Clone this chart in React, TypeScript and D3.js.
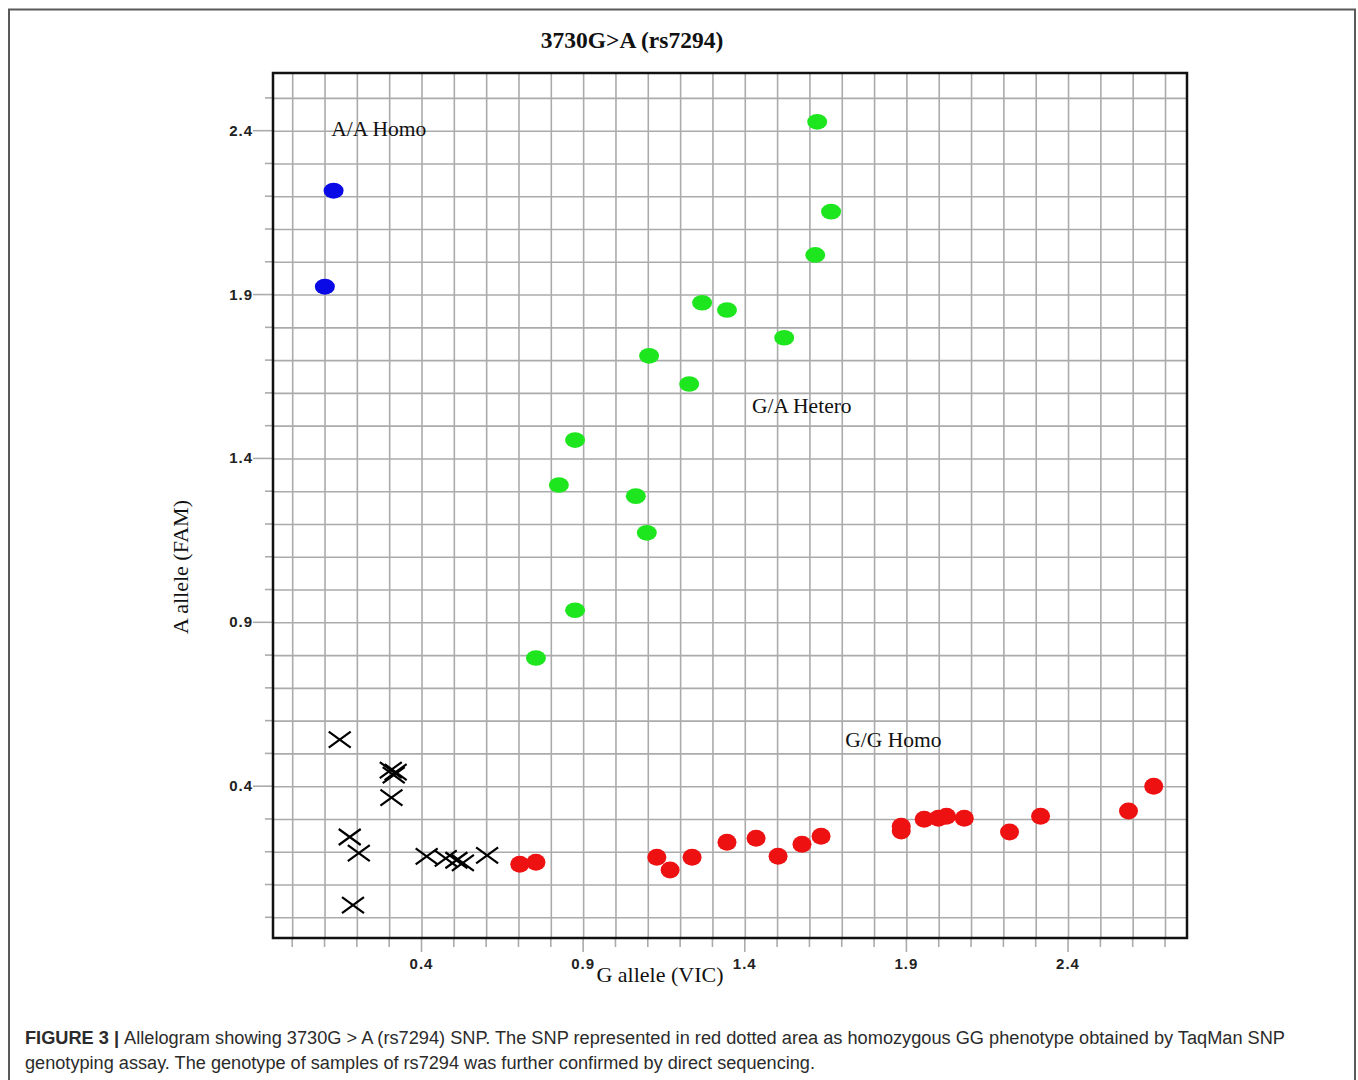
import * as d3 from 'd3';
import { useEffect, useRef } from 'react';

// Allelogram values: g = G allele (VIC), a = A allele (FAM)
const aaHomo = [
    { g: 0.128, a: 2.217 },
    { g: 0.101, a: 1.924 },
];

const gaHetero = [
    { g: 1.624, a: 2.427 },
    { g: 1.667, a: 2.153 },
    { g: 1.618, a: 2.021 },
    { g: 1.268, a: 1.875 },
    { g: 1.345, a: 1.853 },
    { g: 1.522, a: 1.768 },
    { g: 1.104, a: 1.713 },
    { g: 1.228, a: 1.627 },
    { g: 0.875, a: 1.456 },
    { g: 0.825, a: 1.319 },
    { g: 1.063, a: 1.285 },
    { g: 1.097, a: 1.173 },
    { g: 0.875, a: 0.937 },
    { g: 0.754, a: 0.791 },
];

const ggHomo = [
    { g: 0.704, a: 0.162 },
    { g: 0.754, a: 0.168 },
    { g: 1.128, a: 0.183 },
    { g: 1.169, a: 0.144 },
    { g: 1.237, a: 0.183 },
    { g: 1.345, a: 0.229 },
    { g: 1.435, a: 0.241 },
    { g: 1.503, a: 0.186 },
    { g: 1.577, a: 0.223 },
    { g: 1.636, a: 0.247 },
    { g: 1.884, a: 0.278 },
    { g: 1.884, a: 0.263 },
    { g: 1.955, a: 0.299 },
    { g: 1.999, a: 0.302 },
    { g: 2.024, a: 0.308 },
    { g: 2.079, a: 0.302 },
    { g: 2.219, a: 0.26 },
    { g: 2.315, a: 0.308 },
    { g: 2.587, a: 0.324 },
    { g: 2.665, a: 0.4 },
];

const noCall = [
    { g: 0.147, a: 0.542 },
    { g: 0.305, a: 0.449 },
    { g: 0.32, a: 0.443 },
    { g: 0.314, a: 0.434 },
    { g: 0.307, a: 0.365 },
    { g: 0.178, a: 0.245 },
    { g: 0.206, a: 0.196 },
    { g: 0.188, a: 0.037 },
    { g: 0.416, a: 0.186 },
    { g: 0.475, a: 0.18 },
    { g: 0.508, a: 0.174 },
    { g: 0.528, a: 0.166 },
    { g: 0.603, a: 0.189 },
];

const labeledTicks = [0.4, 0.9, 1.4, 1.9, 2.4];
const xGridTicks = d3.range(0, 28).map((i) => i / 10);
const yGridTicks = d3.range(0, 26).map((i) => i / 10);

const clusterLabels = [
    { text: 'A/A Homo', g: 0.121, a: 2.385 },
    { text: 'G/A Hetero', g: 1.422, a: 1.539 },
    { text: 'G/G Homo', g: 1.711, a: 0.519 },
];

const captionLines = [
    'Allelogram showing 3730G > A (rs7294) SNP. The SNP represented in red dotted area as homozygous GG phenotype obtained by TaqMan SNP',
    'genotyping assay. The genotype of samples of rs7294 was further confirmed by direct sequencing.',
];

const App = () => {
    const ref = useRef<SVGSVGElement | null>(null);

    useEffect(() => {
        document.body.style.margin = '0';

        const svgRoot = d3.select(ref.current);
        svgRoot.selectAll('*').remove();

        const margin = { top: 73, left: 273 };
        const width = 914;
        const height = 865;

        const serif = '"Liberation Serif", "Times New Roman", serif';
        const sans = '"Liberation Sans", Arial, sans-serif';
        const gridColor = '#ababab';

        // outer figure frame
        svgRoot.append('rect')
            .attr('x', 9)
            .attr('y', 9.5)
            .attr('width', 1346)
            .attr('height', 1090)
            .attr('fill', 'none')
            .attr('stroke', '#5a5a5a')
            .attr('stroke-width', 2);

        const svg = svgRoot.append('g')
            .attr('transform', `translate(${margin.left},${margin.top})`);

        // Scales
        const x = d3.scaleLinear().domain([-0.0594, 2.768]).range([0, width]);
        const y = d3.scaleLinear().domain([-0.0632, 2.576]).range([height, 0]);

        // grid
        svg.append('g')
            .attr('transform', `translate(0, ${height})`)
            .call(d3.axisBottom(x).tickValues(xGridTicks).tickSize(-height).tickFormat(() => ''))
            .call((g) => g.select('.domain').remove())
            .call((g) => g.selectAll('line').attr('stroke', gridColor).attr('stroke-width', 1.6));

        svg.append('g')
            .call(d3.axisLeft(y).tickValues(yGridTicks).tickSize(-width).tickFormat(() => ''))
            .call((g) => g.select('.domain').remove())
            .call((g) => g.selectAll('line').attr('stroke', gridColor).attr('stroke-width', 1.6));

        // small ticks outside the frame, longer at the labelled values
        const isLabeled = (d: number) => labeledTicks.some((t) => Math.abs(t - d) < 1e-6);

        svg.append('g')
            .attr('transform', `translate(0, ${height})`)
            .selectAll('line')
            .data(xGridTicks)
            .enter()
            .append('line')
            .attr('x1', (d) => x(d))
            .attr('x2', (d) => x(d))
            .attr('y1', 0)
            .attr('y2', (d) => (isLabeled(d) ? 14 : 9))
            .attr('stroke', gridColor)
            .attr('stroke-width', 1.6);

        svg.append('g')
            .selectAll('line')
            .data(yGridTicks)
            .enter()
            .append('line')
            .attr('y1', (d) => y(d))
            .attr('y2', (d) => y(d))
            .attr('x1', 0)
            .attr('x2', (d) => (isLabeled(d) ? -20 : -8))
            .attr('stroke', gridColor)
            .attr('stroke-width', 1.6);

        // tick labels
        svg.append('g')
            .selectAll('text')
            .data(labeledTicks)
            .enter()
            .append('text')
            .attr('x', (d) => x(d))
            .attr('y', height + 31)
            .attr('text-anchor', 'middle')
            .style('font-family', sans)
            .style('font-size', '15px')
            .style('font-weight', 'bold')
            .style('letter-spacing', '1px')
            .attr('fill', '#222')
            .text((d) => d.toFixed(1));

        svg.append('g')
            .selectAll('text')
            .data(labeledTicks)
            .enter()
            .append('text')
            .attr('x', -20)
            .attr('y', (d) => y(d) + 5)
            .attr('text-anchor', 'end')
            .style('font-family', sans)
            .style('font-size', '15px')
            .style('font-weight', 'bold')
            .style('letter-spacing', '1px')
            .attr('fill', '#222')
            .text((d) => d.toFixed(1));

        // plot frame
        svg.append('rect')
            .attr('width', width)
            .attr('height', height)
            .attr('fill', 'none')
            .attr('stroke', '#111')
            .attr('stroke-width', 2.5);

        // points
        svg.selectAll('.aa')
            .data(aaHomo)
            .enter()
            .append('ellipse')
            .attr('cx', (d) => x(d.g))
            .attr('cy', (d) => y(d.a))
            .attr('rx', 10)
            .attr('ry', 8)
            .attr('fill', '#0a0ae6');

        svg.selectAll('.ga')
            .data(gaHetero)
            .enter()
            .append('ellipse')
            .attr('cx', (d) => x(d.g))
            .attr('cy', (d) => y(d.a))
            .attr('rx', 10)
            .attr('ry', 7.8)
            .attr('fill', '#1ee61e');

        svg.selectAll('.gg')
            .data(ggHomo)
            .enter()
            .append('ellipse')
            .attr('cx', (d) => x(d.g))
            .attr('cy', (d) => y(d.a))
            .attr('rx', 9.5)
            .attr('ry', 8.5)
            .attr('fill', '#ee1111');

        svg.selectAll('.nc')
            .data(noCall)
            .enter()
            .append('path')
            .attr('transform', (d) => `translate(${x(d.g)},${y(d.a)})`)
            .attr('d', 'M-11,-8L11,8M-11,8L11,-8')
            .attr('fill', 'none')
            .attr('stroke', '#000')
            .attr('stroke-width', 2.2);

        // cluster labels
        svg.selectAll('.cl')
            .data(clusterLabels)
            .enter()
            .append('text')
            .attr('x', (d) => x(d.g))
            .attr('y', (d) => y(d.a))
            .style('font-family', serif)
            .style('font-size', '21.5px')
            .attr('fill', '#111')
            .text((d) => d.text);

        // title
        svg.append('text')
            .attr('x', 632 - margin.left)
            .attr('y', 48 - margin.top)
            .attr('text-anchor', 'middle')
            .style('font-family', serif)
            .style('font-size', '23.5px')
            .style('font-weight', 'bold')
            .attr('fill', '#111')
            .text('3730G>A (rs7294)');

        // axis labels
        svg.append('text')
            .attr('x', 660 - margin.left)
            .attr('y', 982 - margin.top)
            .attr('text-anchor', 'middle')
            .style('font-family', serif)
            .style('font-size', '22px')
            .attr('fill', '#111')
            .text('G allele (VIC)');

        svg.append('text')
            .attr('transform', `translate(${188 - margin.left},${567 - margin.top}) rotate(-90)`)
            .attr('text-anchor', 'middle')
            .style('font-family', serif)
            .style('font-size', '22px')
            .attr('fill', '#111')
            .text('A allele (FAM)');

        // caption
        const cap1 = svgRoot.append('text')
            .attr('x', 25)
            .attr('y', 1044)
            .attr('textLength', 1260)
            .attr('lengthAdjust', 'spacingAndGlyphs')
            .style('font-family', sans)
            .style('font-size', '18px')
            .attr('fill', '#2b2b2b');
        cap1.append('tspan').style('font-weight', 'bold').text('FIGURE 3 | ');
        cap1.append('tspan').text(captionLines[0]);

        svgRoot.append('text')
            .attr('x', 25)
            .attr('y', 1069)
            .attr('textLength', 790)
            .attr('lengthAdjust', 'spacingAndGlyphs')
            .style('font-family', sans)
            .style('font-size', '18px')
            .attr('fill', '#2b2b2b')
            .text(captionLines[1]);
    }, []);

    return <svg ref={ref} width={1358} height={1080} style={{ display: 'block' }}></svg>;
};

export default App;
